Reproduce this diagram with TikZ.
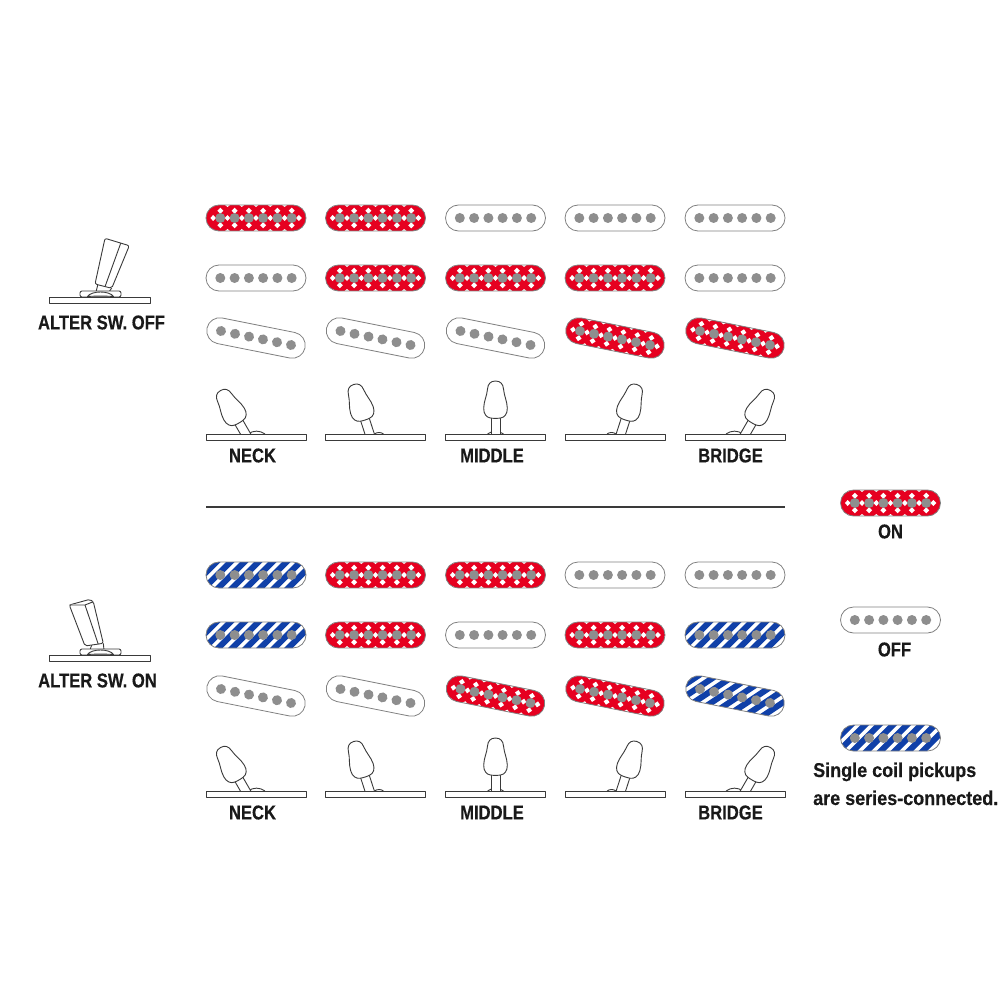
\documentclass[tikz,border=0pt]{standalone}
\usepackage{fontspec}
\newfontfamily\labelfont[FakeStretch=0.83,FakeBold=0.35]{Liberation Sans Bold}
\newfontfamily\legendfont[FakeStretch=0.9,FakeBold=0.35]{Liberation Sans Bold}
\definecolor{pickupred}{HTML}{E60020}
\definecolor{pickupblue}{HTML}{1040A8}
\definecolor{polegray}{HTML}{8E8E8E}
\definecolor{rimgray}{HTML}{808080}
\definecolor{swline}{HTML}{3A3A3A}
\newcommand{\pickuprim}{(-50,-13) rectangle (50,13)}
\newcommand{\pickuppoles}{%
    \foreach \px in {-35.7,-21.4,-7.1,7.1,21.4,35.7} \fill[polegray] (\px,0) circle (5);
    \draw[rim] \pickuprim;
}
\tikzset{
    rim/.style={draw=rimgray, line width=0.8pt, rounded corners=13pt},
    swtext/.style={font=\labelfont\fontsize{20}{24}\selectfont, text=black!90, inner sep=0pt},
    legtext/.style={font=\legendfont\fontsize{20}{24}\selectfont, text=black!90, inner sep=0pt, anchor=base west},
    swbar/.style={draw=swline, line width=0.9pt, fill=white, line join=round},
    pics/pickupoff/.style={code={
        \fill[white, rounded corners=13pt] \pickuprim;
        \pickuppoles
    }},
    pics/pickupon/.style={code={
        \begin{scope}
            \clip[rounded corners=13pt] \pickuprim;
            \fill[pickupred] \pickuprim;
            \foreach \px in {-35.7,-21.4,-7.1,7.1,21.4,35.7} {
                \foreach \py in {-7.3,7.3}
                    \fill[white] (\px-3,\py) -- (\px,\py-3) -- (\px+3,\py) -- (\px,\py+3) -- cycle;
                \fill[white] (\px-10,0) -- (\px-7.1,-3) -- (\px-4.2,0) -- (\px-7.1,3) -- cycle;
                \foreach \py in {-13,13}
                    \fill[white] (\px-9.6,\py) -- (\px-7.1,\py-2) -- (\px-4.6,\py) -- (\px-7.1,\py+2) -- cycle;
            }
            \fill[white] (39.8,0) -- (42.8,-3) -- (45.8,0) -- (42.8,3) -- cycle;
        \end{scope}
        \pickuppoles
    }},
    pics/pickupser/.style={code={
        \begin{scope}
            \clip[rounded corners=13pt] \pickuprim;
            \fill[white] \pickuprim;
            \foreach \sx in {-84,-70,...,56}
                \fill[pickupblue] (\sx,13) -- (\sx+8.5,13) -- (\sx+34.5,-13) -- (\sx+26,-13) -- cycle;
        \end{scope}
        \pickuppoles
    }},
    pics/lever/.style={code={
        \draw[swbar] (-4.5,-36) -- (-4.5,-17) -- (4.5,-17) -- (4.5,-36);
        \draw[swbar] (0,-71) .. controls (5,-71) and (7.6,-68) .. (8,-63)
            .. controls (8.6,-56) and (11.6,-51) .. (11.8,-44)
            .. controls (12,-38) and (9,-34.5) .. (5,-34)
            .. controls (2,-33.5) and (-2,-33.5) .. (-5,-34)
            .. controls (-9,-34.5) and (-12,-38) .. (-11.8,-44)
            .. controls (-11.6,-51) and (-8.6,-56) .. (-8,-63)
            .. controls (-7.6,-68) and (-5,-71) .. (0,-71) -- cycle;
    }},
    pics/altbase/.style={code={
        \draw[swbar, rounded corners=2pt] (-20.5,-6) rectangle (20.5,0);
        \draw[swbar] (-13,-0.5) .. controls (-9,-6.5) and (9,-6.5) .. (13,-0.5)
            .. controls (9,-1) and (-9,-1) .. (-13,-0.5) -- cycle;
    }},
}
\begin{document}
\begin{tikzpicture}[x=1pt, y=-1pt]
    \useasboundingbox (0,0) rectangle (1000,1000);

    % alter switch off
    \draw[swbar] (98,284) -- (96,292) (111.7,288) -- (109,292);
    \pic at (100.5,297) {altbase};
    \draw[swbar, rounded corners=2pt] (95,284) -- (105,238.3) -- (129.3,245.7) -- (111.7,288.3) -- cycle;
    \draw[swbar] (120.7,243.3) -- (105,286.7);
    \draw[swbar] (49.5,297.5) rectangle (150.5,303.5);
    \node (alteroff) [swtext] at (101.5,322.5) {ALTER SW. OFF};

    % alter switch on
    \draw[swbar] (91.7,645) -- (90,650) (103.3,643.3) -- (104,650);
    \pic at (100.5,655) {altbase};
    \draw[swbar, rounded corners=2pt] (69.3,605) -- (90,599.3) -- (93.3,601.7) -- (103.3,643.3) -- (85,646) -- cycle;
    \draw[swbar] (85,605) -- (98.3,644.3) (69.3,605) -- (85,605) -- (93.3,601.7);
    \draw[swbar] (49.5,655.5) rectangle (150.5,661.5);
    \node (alteron) [swtext] at (97.5,680.5) {ALTER SW. ON};

    % pickups, first block
    \foreach \cx/\ka/\kb/\kc in {256/pickupon/pickupoff/pickupoff,
        375.5/pickupon/pickupon/pickupoff,
        495.5/pickupoff/pickupon/pickupoff,
        615/pickupoff/pickupon/pickupon,
        735/pickupoff/pickupoff/pickupon} {
        \pic at (\cx,218) {\ka};
        \pic at (\cx,278) {\kb};
        \pic[rotate=-11.3] at (\cx,338) {\kc};
    }

    % pickups, second block
    \foreach \cx/\ka/\kb/\kc in {256/pickupser/pickupser/pickupoff,
        375.5/pickupon/pickupon/pickupoff,
        495.5/pickupon/pickupoff/pickupon,
        615/pickupoff/pickupon/pickupon,
        735/pickupoff/pickupser/pickupser} {
        \pic at (\cx,575) {\ka};
        \pic at (\cx,635) {\kb};
        \pic[rotate=-11.3] at (\cx,696) {\kc};
    }

    % five way switch rows
    \foreach \dy in {0,357} {
        \foreach \cx/\ang/\fa/\fb in {256/30/-8/9, 375.5/18/-1/8, 495.5/0/-8/8, 615/-18/-8/1, 735/-30/-9/8} {
            \draw[swbar, fill=none] ({\cx+\fa},434+\dy) to[bend left=35] ({\cx+\fb},434+\dy);
            \pic[rotate=\ang] at (\cx,452+\dy) {lever};
            \draw[swbar] (\cx-50,434+\dy) rectangle (\cx+50,440+\dy);
        }
        \node (neck\dy) [swtext] at (252.5,455.5+\dy) {NECK};
        \node (middle\dy) [swtext] at (492,455.5+\dy) {MIDDLE};
        \node (bridge\dy) [swtext] at (730.5,455.5+\dy) {BRIDGE};
    }

    \draw[swline, line width=1.5pt] (206,507) -- (785,507);

    % legend
    \pic at (890.5,503) {pickupon};
    \node (legon) [swtext] at (890.5,531.5) {ON};
    \pic at (890.5,620) {pickupoff};
    \node (legoff) [swtext] at (894.5,649.5) {OFF};
    \pic at (890.5,738) {pickupser};
    \node (legser) [legtext] at (813,777) {Single coil pickups};
    \node (legsertwo) [legtext] at (813,805) {are series-connected.};
\end{tikzpicture}
\end{document}
